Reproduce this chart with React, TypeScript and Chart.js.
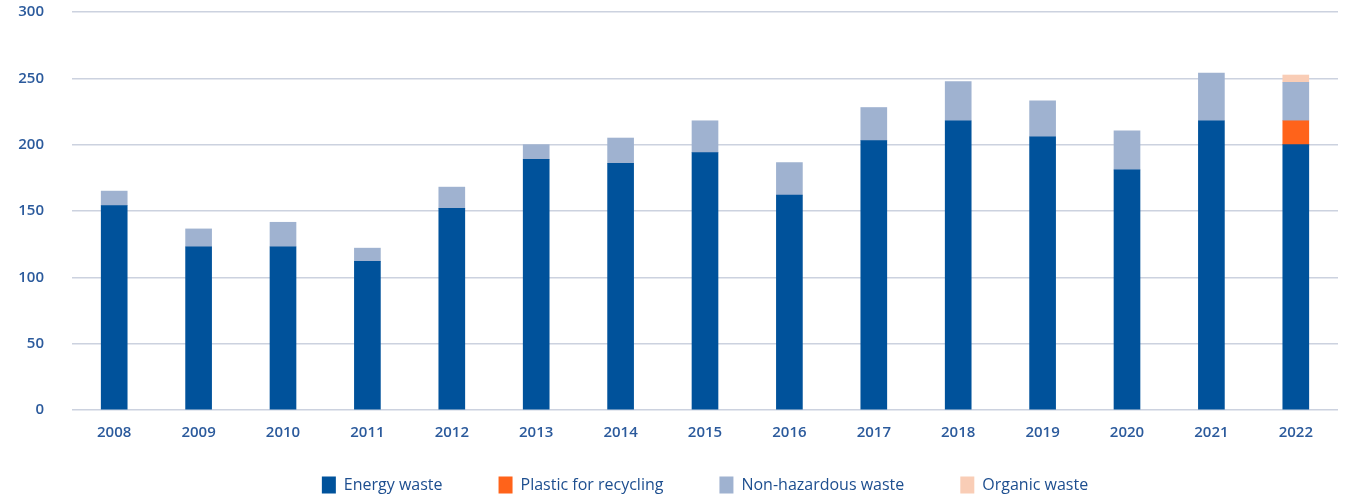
import React, { useEffect, useRef } from "react";
import { Chart, registerables } from "chart.js";

Chart.register(...registerables);

const categories = ["2008", "2009", "2010", "2011", "2012", "2013", "2014", "2015", "2016", "2017", "2018", "2019", "2020", "2021", "2022"];
const energyWaste = [154, 123, 123, 112, 152, 189, 186, 194, 162, 203, 218, 206, 181, 218, 200];
const plasticForRecycling = [null, null, null, null, null, null, null, null, null, null, null, null, null, null, 18];
const nonHazardousWaste = [11, 13.5, 18.5, 10, 16, 11, 19, 24, 24.5, 25, 29.5, 27, 29.5, 36, 29];
const organicWaste = [null, null, null, null, null, null, null, null, null, null, null, null, null, null, 5.5];
const yTicks = [0, 50, 100, 150, 200, 250, 300];

const FONT = "'Open Sans', 'Noto Sans', sans-serif";
const TICK_COLOR = "#2b5a9c";
const GRID_COLOR = "#ccd2df";
const LEGEND_PAD = 56;
const LEGEND_BOX_H = 17;

export default function App() {
  const ref = useRef<HTMLCanvasElement | null>(null);

  useEffect(() => {
    if (!ref.current) return;
    const placeLegend = {
      id: "placeLegend",
      afterLayout(chart: any) {
        const lg = chart.legend;
        if (lg) {
          const h = lg.bottom - lg.top;
          lg.top = 485 - LEGEND_PAD - LEGEND_BOX_H / 2;
          lg.bottom = lg.top + Math.max(h, 100);
          lg.left = chart.chartArea.left;
          lg.right = chart.chartArea.right;
        }
      },
    };
    const chart = new Chart(ref.current, {
      type: "bar",
      data: {
        labels: categories,
        datasets: [
          { label: "Energy waste", data: energyWaste, backgroundColor: "#00529b" },
          { label: "Plastic for recycling", data: plasticForRecycling, backgroundColor: "#ff631a" },
          { label: "Non-hazardous waste", data: nonHazardousWaste, backgroundColor: "#9fb2d0" },
          { label: "Organic waste", data: organicWaste, backgroundColor: "#f9cdb6" },
        ],
      },
      plugins: [placeLegend],
      options: {
        animation: false,
        responsive: false,
        layout: { padding: { top: 12, right: 10, left: 0, bottom: 0 } },
        datasets: { bar: { barThickness: 26 } },
        plugins: {
          tooltip: { enabled: false },
          legend: {
            position: "bottom",
            maxHeight: 37,
            labels: {
              boxWidth: 14,
              boxHeight: LEGEND_BOX_H,
              padding: LEGEND_PAD,
              color: "#1d4e8f",
              font: { family: FONT, size: 16 },
            },
          },
        },
        scales: {
          x: {
            stacked: true,
            grid: { display: false, drawTicks: false },
            border: { display: false },
            ticks: {
              padding: 14,
              color: TICK_COLOR,
              font: { family: FONT, size: 15, weight: 600 },
            },
            afterFit: (scale: any) => {
              scale.height = 50;
            },
          },
          y: {
            stacked: true,
            min: 0,
            max: 300,
            afterBuildTicks: (scale: any) => {
              scale.ticks = yTicks.map((v) => ({ value: v }));
            },
            grid: { color: GRID_COLOR, lineWidth: 1.5, drawTicks: false },
            border: { display: false },
            ticks: {
              padding: 28,
              color: TICK_COLOR,
              font: { family: FONT, size: 15, weight: 600 },
            },
            afterFit: (scale: any) => {
              scale.width = 72;
              scale.paddingTop = 9;
              scale.paddingBottom = 9;
            },
          },
        },
      },
    });
    return () => chart.destroy();
  }, []);

  return (
    <div style={{ position: "fixed", left: 0, top: 0, width: 1348, height: 497, background: "#fff" }}>
      <canvas ref={ref} width={1348} height={497} style={{ width: 1348, height: 497 }} />
    </div>
  );
}
